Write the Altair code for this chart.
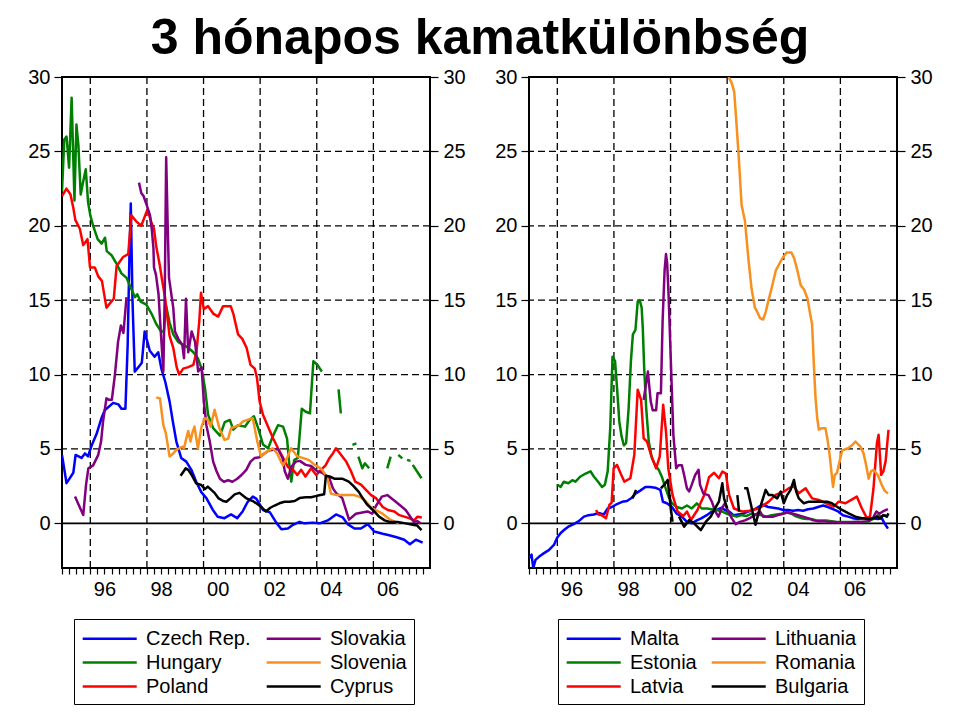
import altair as alt
import pandas as pd

FONT = "Liberation Sans"

# ---------------- left panel series: [year, value]; None = gap ----------------
czech = [[1995.0, 4.6], [1995.16, 2.7], [1995.4, 3.4], [1995.48, 4.6], [1995.69, 4.4], [1995.81, 4.7],
         [1995.92, 4.5], [1996.04, 5.2], [1996.22, 6.0], [1996.4, 7.1], [1996.51, 7.6], [1996.81, 8.1],
         [1996.99, 8.0], [1997.1, 7.7], [1997.24, 7.7], [1997.32, 12.0], [1997.38, 17.8], [1997.43, 21.5],
         [1997.49, 15.0], [1997.57, 10.2], [1997.7, 10.5], [1997.82, 10.8], [1997.92, 12.9], [1998.1, 11.6],
         [1998.27, 11.2], [1998.4, 11.5], [1998.51, 10.4], [1998.65, 9.5], [1998.8, 8.2], [1998.92, 6.8],
         [1999.04, 5.5], [1999.21, 4.4], [1999.39, 4.15], [1999.57, 3.6], [1999.74, 2.8], [1999.92, 2.1],
         [2000.1, 1.7], [2000.33, 0.9], [2000.5, 0.45], [2000.74, 0.35], [2000.97, 0.6], [2001.19, 0.35],
         [2001.38, 0.8], [2001.56, 1.45], [2001.74, 1.8], [2001.87, 1.65], [2002.1, 0.9], [2002.34, 0.75],
         [2002.57, 0.05], [2002.75, -0.4], [2002.98, -0.35], [2003.16, -0.1], [2003.39, 0.1], [2003.57, 0.0],
         [2003.86, 0.05], [2004.1, 0.0], [2004.39, 0.2], [2004.68, 0.6], [2004.92, 0.4], [2005.09, -0.05],
         [2005.33, -0.35], [2005.56, -0.35], [2005.8, -0.05], [2006.03, -0.55], [2006.33, -0.7],
         [2006.56, -0.8], [2006.85, -0.95], [2007.09, -1.1], [2007.29, -1.4], [2007.5, -1.1], [2007.74, -1.3]]

hungary = [[1995.0, 22.3], [1995.08, 25.8], [1995.16, 26.0], [1995.25, 23.9], [1995.34, 28.6], [1995.44, 21.7],
           [1995.51, 26.8], [1995.58, 25.4], [1995.66, 22.1], [1995.75, 23.0], [1995.84, 23.8], [1995.92, 21.6],
           [1996.0, 20.7], [1996.1, 20.0], [1996.26, 19.1], [1996.4, 18.8], [1996.52, 19.2], [1996.58, 18.3],
           [1996.76, 18.0], [1996.94, 17.4], [1997.1, 16.8], [1997.28, 16.5], [1997.46, 15.7], [1997.58, 15.2],
           [1997.66, 15.4], [1997.78, 14.9], [1997.98, 14.7], [1998.16, 14.1], [1998.33, 13.4], [1998.5, 12.9],
           [1998.6, 12.9], [1998.68, 14.6], [1998.8, 13.5], [1998.93, 12.7], [1999.1, 12.2], [1999.28, 12.0],
           [1999.46, 11.8], [1999.64, 11.5], [1999.8, 11.1], [1999.93, 10.4], [2000.05, 9.1], [2000.16, 7.3],
           [2000.34, 6.4], [2000.58, 5.9], [2000.75, 6.8], [2000.93, 6.95], [2001.05, 6.3], [2001.22, 6.6],
           [2001.46, 6.5], [2001.63, 6.95], [2001.78, 7.2], [2001.93, 6.4], [2002.1, 5.3], [2002.28, 5.05],
           [2002.46, 5.9], [2002.63, 6.6], [2002.81, 6.5], [2002.95, 5.7], [2003.02, 4.15], [2003.1, 2.8],
           [2003.2, 4.25], [2003.33, 4.4], [2003.47, 7.7], [2003.61, 7.5], [2003.76, 7.4], [2003.88, 10.9],
           [2004.02, 10.66], [2004.18, 10.2], None,
           [2004.77, 9.0], [2004.85, 7.4], None,
           [2005.26, 5.28], [2005.4, 5.38], None,
           [2005.47, 4.49], [2005.61, 3.7], [2005.7, 4.04], [2005.85, 3.7], None,
           [2006.49, 3.7], [2006.61, 4.49], None,
           [2006.88, 4.6], [2007.02, 4.37], None,
           [2007.19, 4.27], [2007.31, 4.2], None,
           [2007.39, 3.93], [2007.7, 3.03]]

poland = [[1995.0, 22.0], [1995.16, 22.5], [1995.3, 22.1], [1995.4, 21.2], [1995.47, 20.4], [1995.63, 19.8],
          [1995.75, 18.7], [1995.9, 19.1], [1995.99, 17.2], [1996.16, 17.2], [1996.28, 16.6], [1996.41, 16.3],
          [1996.57, 14.5], [1996.7, 14.8], [1996.83, 15.1], [1996.93, 17.3], [1997.16, 17.9], [1997.34, 18.1],
          [1997.45, 20.7], [1997.62, 20.3], [1997.8, 20.0], [1998.02, 21.1], [1998.16, 20.2], [1998.25, 19.8],
          [1998.33, 18.6], [1998.45, 17.4], [1998.54, 16.3], [1998.64, 15.2], [1998.8, 12.6], [1998.93, 11.8],
          [1999.05, 10.5], [1999.14, 10.0], [1999.28, 10.4], [1999.46, 10.5], [1999.64, 10.65], [1999.75, 11.5],
          [1999.85, 13.6], [1999.91, 15.5], [2000.01, 14.4], [2000.16, 14.6], [2000.34, 14.1], [2000.52, 13.9],
          [2000.69, 14.6], [2000.96, 14.6], [2001.05, 14.1], [2001.22, 12.7], [2001.37, 12.4], [2001.52, 11.8],
          [2001.66, 10.65], [2001.81, 10.4], [2001.89, 9.75], [2001.98, 8.2], [2002.1, 7.3], [2002.28, 6.5],
          [2002.46, 5.7], [2002.63, 5.05], [2002.81, 4.4], [2002.98, 3.8], [2003.16, 3.6], [2003.31, 3.25],
          [2003.45, 3.6], [2003.6, 3.15], [2003.8, 3.7], [2003.98, 3.25], [2004.15, 3.6], [2004.31, 3.9],
          [2004.45, 4.4], [2004.57, 4.7], [2004.68, 5.05], [2004.86, 4.6], [2005.04, 4.15], [2005.21, 3.5],
          [2005.36, 2.8], [2005.56, 2.6], [2005.74, 2.25], [2005.92, 1.9], [2006.09, 1.7], [2006.33, 1.1],
          [2006.51, 0.9], [2006.74, 0.8], [2006.92, 0.55], [2007.09, 0.45], [2007.26, 0.35], [2007.44, 0.2],
          [2007.56, 0.45], [2007.71, 0.4]]

slovakia = [[1995.46, 1.8], [1995.6, 1.2], [1995.75, 0.56], [1995.85, 2.6], [1995.93, 3.7], [1996.1, 3.9],
            [1996.28, 4.6], [1996.38, 5.5], [1996.45, 6.84], [1996.57, 8.4], [1996.66, 8.3], [1996.76, 8.3],
            [1996.87, 10.0], [1996.98, 12.2], [1997.08, 13.3], [1997.17, 12.8], [1997.28, 15.2], None,
            [1997.72, 22.9], [1997.8, 22.2], [1997.88, 22.0], [1997.99, 21.4], [1998.11, 20.7], [1998.17, 19.8],
            [1998.23, 18.5], [1998.25, 17.2], [1998.32, 16.7], [1998.41, 15.4], [1998.46, 13.8], [1998.52, 12.0],
            [1998.58, 10.2], [1998.63, 15.4], [1998.68, 24.6], [1998.73, 20.3], [1998.78, 16.5], [1998.93, 14.5],
            [1998.99, 12.9], [1999.11, 12.4], [1999.25, 12.0], [1999.31, 11.1], [1999.38, 15.1], [1999.46, 11.5],
            [1999.58, 12.9], [1999.7, 12.2], [1999.81, 10.2], [1999.93, 10.5], [2000.01, 8.2], [2000.1, 6.6],
            [2000.22, 5.5], [2000.34, 4.15], [2000.46, 3.5], [2000.58, 3.0], [2000.72, 2.8], [2000.87, 2.9],
            [2001.02, 2.8], [2001.19, 3.0], [2001.34, 3.25], [2001.51, 3.6], [2001.66, 4.15], [2001.81, 4.4],
            [2001.98, 4.45], [2002.15, 4.7], [2002.31, 4.9], [2002.46, 4.95], [2002.63, 5.0], [2002.79, 4.4],
            [2002.87, 3.5], [2002.98, 3.0], [2003.1, 3.8], [2003.26, 4.15], [2003.4, 4.2], [2003.61, 3.93],
            [2003.8, 3.85], [2004.02, 3.5], [2004.2, 3.4], [2004.45, 3.0], [2004.57, 2.35], [2004.7, 2.0],
            [2004.9, 1.7], [2005.14, 0.25], [2005.38, 0.65], [2005.79, 0.8], [2005.96, 0.65], [2006.1, 1.2],
            [2006.3, 1.8], [2006.49, 1.9], [2006.79, 1.45], [2007.14, 0.9], [2007.43, 0.1], [2007.55, 0.15],
            [2007.67, 0.0]]

slovenia = [[1998.33, 8.46], [1998.46, 8.4], [1998.58, 6.6], [1998.67, 6.05], [1998.8, 4.5], [1998.93, 4.7],
            [1999.05, 4.95], [1999.15, 5.05], [1999.25, 5.15], [1999.31, 5.05], [1999.39, 5.7], [1999.46, 6.2],
            [1999.54, 5.5], [1999.6, 6.05], [1999.68, 6.5], [1999.8, 5.05], [1999.93, 6.5], [2000.04, 7.07],
            [2000.16, 6.95], [2000.25, 6.5], [2000.39, 7.63], [2000.56, 6.39], [2000.74, 5.61], [2000.87, 5.7],
            [2000.97, 6.39], [2001.12, 6.5], [2001.27, 6.62], [2001.4, 6.85], [2001.56, 6.96], [2001.74, 7.07],
            [2001.9, 5.5], [2002.03, 4.5], [2002.22, 4.8], [2002.44, 5.05], [2002.6, 4.7], [2002.8, 3.9],
            [2002.93, 4.3], [2003.09, 5.05], [2003.32, 4.5], [2003.5, 4.4], [2003.73, 4.25], [2003.95, 3.9],
            [2004.14, 3.7], [2004.3, 3.3], [2004.38, 3.0], [2004.5, 2.0], [2004.7, 1.9], [2005.0, 1.9],
            [2005.32, 1.9], [2005.5, 1.8], [2005.67, 1.6], [2005.82, 1.3], [2005.96, 1.0], [2006.31, 0.67],
            [2006.61, 0.23], [2006.9, 0.0]]

cyprus = [[1999.19, 3.2], [1999.3, 3.5], [1999.37, 3.7], [1999.46, 3.6], [1999.58, 3.25], [1999.74, 2.69],
          [1999.92, 2.58], [2000.05, 2.3], [2000.15, 2.47], [2000.39, 2.05], [2000.52, 1.7], [2000.69, 1.5],
          [2000.81, 1.45], [2000.96, 1.7], [2001.1, 1.95], [2001.27, 2.05], [2001.5, 1.7], [2001.74, 1.5],
          [2001.9, 1.3], [2002.04, 1.1], [2002.2, 0.8], [2002.36, 1.05], [2002.51, 1.2], [2002.68, 1.35],
          [2002.86, 1.45], [2003.04, 1.45], [2003.22, 1.5], [2003.39, 1.7], [2003.61, 1.75], [2003.8, 1.75],
          [2004.0, 1.85], [2004.26, 1.95], [2004.32, 3.2], [2004.45, 3.15], [2004.62, 3.0], [2004.9, 3.0],
          [2005.13, 2.8], [2005.3, 2.5], [2005.49, 2.1], [2005.62, 1.7], [2005.79, 1.24], [2005.98, 0.9],
          [2006.2, 0.45], [2006.4, 0.2], [2006.55, 0.11], [2006.85, 0.1], [2007.14, 0.0], [2007.39, -0.1],
          [2007.55, -0.15], [2007.7, -0.45]]

# ---------------- right panel series ----------------
malta = [[1995.0, -2.35], [1995.09, -2.1], [1995.15, -3.0], [1995.23, -2.45], [1995.35, -2.25], [1995.53, -2.0],
         [1995.7, -1.8], [1995.88, -1.45], [1996.0, -0.95], [1996.12, -0.65], [1996.27, -0.4], [1996.41, -0.2],
         [1996.58, -0.05], [1996.76, 0.15], [1996.94, 0.45], [1997.11, 0.55], [1997.29, 0.6], [1997.46, 0.7],
         [1997.64, 0.6], [1997.78, 1.0], [1997.93, 1.1], [1998.11, 1.3], [1998.29, 1.45], [1998.46, 1.5],
         [1998.62, 1.7], [1998.76, 2.0], [1998.93, 2.2], [1999.11, 2.45], [1999.28, 2.45], [1999.46, 2.4],
         [1999.64, 2.25], [1999.73, 1.45], [1999.87, 1.35], [2000.05, 1.1], [2000.22, 0.65], [2000.4, 0.45],
         [2000.58, 0.1], [2000.75, 0.0], [2000.93, 0.2], [2001.1, 0.35], [2001.28, 0.55], [2001.46, 0.8],
         [2001.63, 0.9], [2001.81, 1.05], [2001.92, 0.9], [2002.07, 0.8], [2002.22, 0.55], [2002.39, 0.6],
         [2002.57, 0.65], [2002.75, 0.8], [2002.92, 0.9], [2003.1, 1.1], [2003.27, 1.25], [2003.45, 1.1],
         [2003.63, 1.05], [2003.8, 1.0], [2003.98, 0.9], [2004.15, 0.9], [2004.33, 0.85], [2004.51, 0.9],
         [2004.68, 0.85], [2004.86, 0.95], [2005.04, 1.0], [2005.21, 1.1], [2005.39, 1.2], [2005.56, 1.1],
         [2005.74, 0.95], [2005.92, 0.8], [2006.09, 0.55], [2006.27, 0.45], [2006.44, 0.35], [2006.62, 0.3],
         [2006.8, 0.35], [2006.97, 0.35], [2007.15, 0.35], [2007.32, 0.3], [2007.46, 0.35], [2007.56, 0.0],
         [2007.68, -0.35]]

estonia = [[1996.0, 2.6], [1996.12, 2.45], [1996.23, 2.8], [1996.39, 2.7], [1996.53, 2.9], [1996.64, 2.8],
           [1996.82, 3.15], [1997.0, 3.35], [1997.17, 3.5], [1997.29, 3.15], [1997.44, 2.8], [1997.58, 2.45],
           [1997.68, 2.6], [1997.78, 3.5], [1997.87, 6.4], [1997.95, 11.2], [1998.04, 10.9], [1998.11, 9.1],
           [1998.19, 6.85], [1998.27, 5.85], [1998.35, 5.25], [1998.43, 5.4], [1998.52, 7.75], [1998.6, 10.9],
           [1998.67, 12.7], [1998.76, 13.0], [1998.84, 14.9], [1998.91, 15.0], [1998.98, 14.5], [1999.02, 13.1],
           [1999.07, 10.4], [1999.14, 7.75], [1999.23, 5.5], [1999.34, 4.4], [1999.46, 3.9], [1999.58, 3.6],
           [1999.69, 3.15], [1999.81, 2.45], [1999.93, 1.8], [2000.05, 1.35], [2000.22, 1.1], [2000.4, 1.0],
           [2000.58, 1.2], [2000.75, 1.0], [2000.93, 1.35], [2001.1, 1.0], [2001.28, 1.0], [2001.46, 0.95],
           [2001.63, 0.9], [2001.81, 0.8], [2001.98, 0.65], [2002.16, 0.55], [2002.34, 0.45], [2002.51, 0.55],
           [2002.69, 0.5], [2002.86, 0.65], [2003.04, 0.6], [2003.22, 0.55], [2003.39, 0.45], [2003.57, 0.55],
           [2003.74, 0.6], [2003.92, 0.65], [2004.1, 0.75], [2004.27, 0.65], [2004.45, 0.45], [2004.62, 0.35],
           [2004.8, 0.3], [2004.98, 0.3], [2005.15, 0.2], [2005.33, 0.2], [2005.5, 0.2], [2005.68, 0.15],
           [2005.86, 0.1], [2006.03, 0.1], [2006.27, 0.1], [2006.5, 0.1], [2006.74, 0.1], [2006.97, 0.1],
           [2007.2, 0.35], [2007.32, 0.55], [2007.44, 0.45], [2007.56, 0.55], [2007.68, 0.45]]

latvia = [[1997.37, 0.9], [1997.45, 0.6], [1997.55, 0.56], [1997.72, 0.34], [1997.84, 1.24], [1997.92, 1.4],
          [1997.99, 3.7], [1998.11, 3.93], [1998.25, 3.3], [1998.37, 2.8], [1998.58, 3.03], [1998.72, 4.6],
          [1998.84, 8.98], [1998.96, 8.3], [1999.05, 5.72], [1999.17, 5.5], [1999.31, 4.6], [1999.49, 3.7],
          [1999.62, 4.5], [1999.74, 7.97], [1999.84, 6.17], [1999.92, 3.7], [2000.07, 1.91], [2000.25, 0.79],
          [2000.45, 0.5], [2000.58, 0.8], [2000.72, 0.23], [2000.95, 0.9], [2001.19, 1.91], [2001.36, 3.1],
          [2001.54, 3.4], [2001.71, 3.03], [2001.83, 3.48], [2001.95, 3.36], [2002.07, 1.91], [2002.24, 1.0],
          [2002.54, 0.79], [2002.8, 0.85], [2003.12, 1.0], [2003.47, 1.46], [2003.71, 1.91], [2004.0, 2.13],
          [2004.18, 2.36], [2004.35, 2.5], [2004.53, 2.02], [2004.77, 2.36], [2005.0, 1.68], [2005.24, 1.57],
          [2005.5, 1.35], [2005.76, 1.12], [2005.94, 1.46], [2006.18, 1.35], [2006.4, 1.6], [2006.58, 1.8],
          [2006.76, 1.0], [2006.94, 0.34], [2007.05, 0.5], [2007.17, 2.36], [2007.29, 5.38], [2007.35, 5.95],
          [2007.44, 3.26], [2007.52, 3.5], [2007.6, 4.2], [2007.7, 6.29]]

lithuania = [[1999.05, 8.3], [1999.2, 10.2], [1999.3, 8.2], [1999.37, 7.6], [1999.49, 7.6], [1999.54, 8.75],
             [1999.66, 8.75], [1999.72, 13.6], [1999.79, 17.0], [1999.84, 18.1], [1999.88, 17.5], [1999.93, 15.4],
             [2000.02, 10.4], [2000.1, 5.95], [2000.2, 3.7], [2000.28, 3.9], [2000.4, 3.9], [2000.48, 3.25],
             [2000.58, 2.35], [2000.66, 2.15], [2000.75, 2.6], [2000.87, 3.25], [2000.99, 3.6], [2001.04, 2.6],
             [2001.16, 2.0], [2001.34, 1.9], [2001.46, 1.45], [2001.58, 0.8], [2001.69, 0.45], [2001.81, 1.0],
             [2001.92, 1.35], [2002.04, 0.8], [2002.16, 0.35], [2002.3, -0.05], [2002.45, 0.1], [2002.63, 0.2],
             [2002.8, 0.35], [2002.98, 0.55], [2003.16, 0.8], [2003.27, 0.45], [2003.45, 0.45], [2003.63, 0.45],
             [2003.8, 0.55], [2003.98, 0.65], [2004.15, 0.75], [2004.33, 0.65], [2004.51, 0.55], [2004.68, 0.45],
             [2004.86, 0.35], [2005.04, 0.2], [2005.21, 0.15], [2005.39, 0.15], [2005.56, 0.1], [2005.8, 0.1],
             [2006.03, 0.05], [2006.27, 0.05], [2006.5, 0.1], [2006.74, 0.1], [2006.97, 0.15], [2007.15, 0.35],
             [2007.27, 0.8], [2007.38, 0.65], [2007.5, 0.8], [2007.62, 0.9], [2007.68, 0.95]]

romania = [[2002.05, 30.0], [2002.16, 29.6], [2002.25, 29.0], [2002.34, 26.6], [2002.42, 24.3], [2002.51, 21.4],
           [2002.63, 20.3], [2002.75, 17.8], [2002.86, 15.8], [2002.98, 14.5], [2003.04, 14.3], [2003.16, 13.8],
           [2003.27, 13.7], [2003.36, 14.2], [2003.45, 14.9], [2003.57, 15.8], [2003.72, 17.0], [2003.86, 17.5],
           [2003.98, 17.9], [2004.1, 18.2], [2004.27, 18.2], [2004.37, 17.8], [2004.48, 17.0], [2004.6, 16.0],
           [2004.72, 15.7], [2004.84, 15.1], [2004.92, 14.2], [2005.0, 13.4], [2005.07, 10.4], [2005.12, 8.5],
           [2005.18, 7.1], [2005.24, 6.3], [2005.35, 6.4], [2005.47, 6.4], [2005.54, 5.7], [2005.62, 4.6],
           [2005.74, 2.45], [2005.8, 3.25], [2005.88, 3.4], [2006.0, 4.4], [2006.06, 4.9], [2006.27, 5.05],
           [2006.44, 5.3], [2006.53, 5.5], [2006.71, 5.15], [2006.82, 4.7], [2006.9, 4.0], [2007.0, 3.0],
           [2007.08, 3.5], [2007.17, 3.6], [2007.32, 3.25], [2007.46, 2.6], [2007.56, 2.2], [2007.68, 2.0]]

bulgaria = [[1998.66, 1.68], [1998.78, 2.25], None,
            [1999.66, 2.35], [1999.78, 2.6], [1999.9, 2.92], [1999.96, 1.9], [2000.01, 1.0], [2000.07, 0.11], None,
            [2000.3, 0.45], [2000.48, -0.22], [2000.66, 0.23], [2000.83, 0.0], [2001.07, -0.45], [2001.25, 0.11],
            [2001.42, 0.45], [2001.6, 1.1], [2001.71, 1.46], [2001.83, 2.69], [2001.89, 1.68], [2002.0, 1.0], None,
            [2002.36, 1.9], [2002.42, 0.79], None,
            [2002.6, 2.36], [2002.71, 2.36], [2002.83, 1.35], [2003.0, -0.1], [2003.12, 0.79], [2003.36, 2.25],
            [2003.47, 1.9], [2003.6, 1.9], [2003.77, 1.68], [2003.89, 2.13], [2004.0, 1.35], [2004.12, 1.9],
            [2004.24, 2.25], [2004.36, 2.92], [2004.44, 2.13], [2004.53, 1.68], [2004.71, 1.35], [2004.89, 1.46],
            [2005.12, 1.46], [2005.35, 1.46], [2005.53, 1.46], [2005.7, 1.35], [2005.88, 1.12], [2006.06, 0.9],
            [2006.29, 0.67], [2006.53, 0.45], [2006.76, 0.34], [2007.0, 0.3], [2007.17, 0.34], [2007.29, 0.45],
            [2007.41, 0.34], [2007.52, 0.56], [2007.64, 0.45], [2007.7, 0.67]]

# legend fills column-wise (2 columns of 3)
left_series = {"Czech Rep.": czech, "Hungary": hungary, "Poland": poland,
               "Slovakia": slovakia, "Slovenia": slovenia, "Cyprus": cyprus}
right_series = {"Malta": malta, "Estonia": estonia, "Latvia": latvia,
                "Lithuania": lithuania, "Romania": romania, "Bulgaria": bulgaria}
series_colors = ["#0000ff", "#008000", "#ff0000", "#800080", "#f7901e", "#000000"]

y_ticks = [0, 5, 10, 15, 20, 25, 30]
grid_levels = [5, 10, 15, 20, 25]
grid_years = [1996, 1998, 2000, 2002, 2004, 2006]
quarter_ticks = [1995 + 0.25 * i for i in range(52)]
title_text = "3 hónapos kamatkülönbség"


def to_frame(series):
    rows = []
    for name, pts in series.items():
        seg = 0
        for p in pts:
            if p is None:
                seg += 1
                continue
            rows.append({"country": name, "year": p[0], "value": p[1], "seg": f"{name}-{seg}"})
    return pd.DataFrame(rows)


x_scale = alt.Scale(domain=[1995, 2008], nice=False, zero=False)
y_scale = alt.Scale(domain=[-3, 30], nice=False, zero=False)

x_axis = alt.Axis(values=quarter_ticks, tickSize=6, tickWidth=1.2, tickColor="black",
                  labelExpr="(datum.value % 2 == 0.5) ? substring(toString(floor(datum.value)), 2, 4) : ''",
                  labelFontSize=20, labelFont=FONT, labelColor="black", labelPadding=5,
                  labelOverlap=False, labelFlush=False, labelAngle=0,
                  domain=False, grid=False, title=None)


def y_axis(orient, pad):
    return alt.Axis(orient=orient, values=y_ticks, tickSize=8, tickWidth=1.2, tickColor="black",
                    labelFontSize=20, labelFont=FONT, labelColor="black", labelPadding=pad,
                    labelFlush=False, domain=False, grid=False, title=None)


def panel(series, legend_x, col_pad):
    df = to_frame(series)
    order = list(series.keys())
    X = alt.X("year:Q", scale=x_scale, axis=x_axis)
    vgrid = alt.Chart(pd.DataFrame({"year": grid_years})).mark_rule(
        color="black", strokeDash=[7, 4], strokeWidth=1.3).encode(x=X)
    hgrid = alt.Chart(pd.DataFrame({"v": grid_levels})).mark_rule(
        color="black", strokeDash=[7, 4], strokeWidth=1.3).encode(
        y=alt.Y("v:Q", scale=y_scale, axis=y_axis("left", 4)))
    zero = alt.Chart(pd.DataFrame({"z": [0]})).mark_rule(color="black", strokeWidth=1.6).encode(
        y=alt.Y("z:Q", scale=y_scale, axis=None))
    lines = alt.Chart(df).mark_line(strokeWidth=2.5, clip=True, strokeJoin="round").encode(
        x=X,
        y=alt.Y("value:Q", scale=y_scale, axis=y_axis("right", 5)),
        color=alt.Color("country:N", scale=alt.Scale(domain=order, range=series_colors), title=None,
                        legend=alt.Legend(orient="none", legendX=legend_x, legendY=542, columns=2,
                                          symbolType="M-1,0L4,0", symbolSize=467, symbolStrokeWidth=2.5,
                                          labelFontSize=20, labelFont=FONT, labelColor="black",
                                          labelOffset=40, labelLimit=300, columnPadding=col_pad,
                                          rowPadding=1, padding=7, strokeColor="black")),
        detail="seg:N")
    return alt.layer(vgrid, hgrid, zero, lines).resolve_axis(y="independent").properties(
        width=368, height=491)


left = panel(left_series, 12, 10)
right = panel(right_series, 29, 9)

chart = alt.hconcat(left, right, spacing=99, bounds="flush",
                    padding={"left": 18, "top": 6, "right": 5, "bottom": 5},
                    title=alt.TitleParams(title_text, fontSize=50, fontWeight="bold", font=FONT,
                                          anchor="middle", color="black", offset=2)
                    ).resolve_scale(color="independent").configure(font=FONT).configure_view(
    stroke="black", strokeWidth=2)

chart.save("out.html", embed_options={"renderer": "svg", "actions": False})
